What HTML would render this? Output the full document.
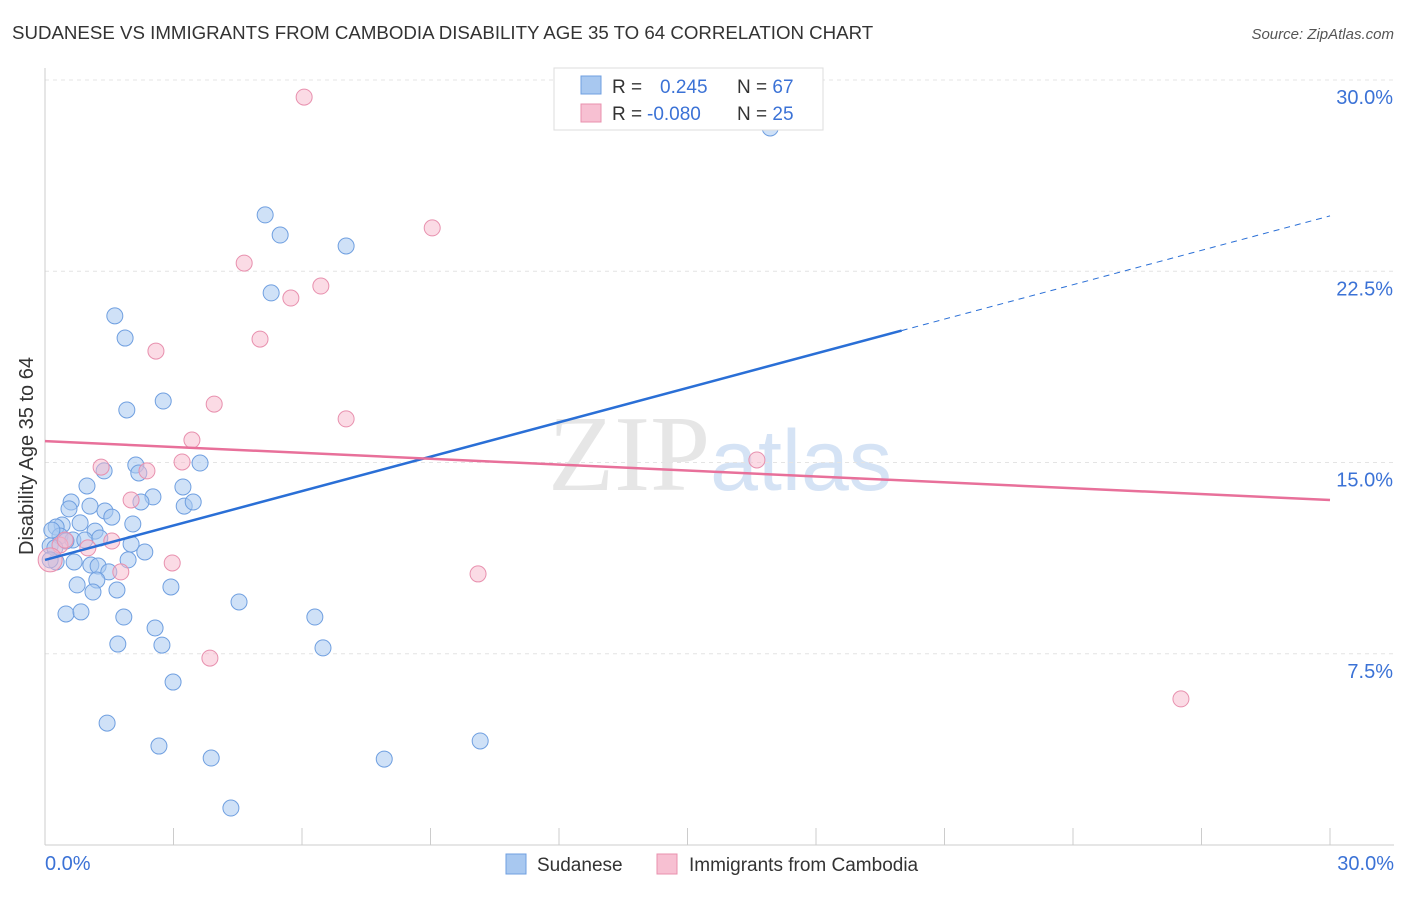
<!DOCTYPE html>
<html><head><meta charset="utf-8"><style>
body{margin:0;background:#fff;font-family:"Liberation Sans",sans-serif;}
</style></head><body>
<svg width="1406" height="892" xmlns="http://www.w3.org/2000/svg" style="font-family:'Liberation Sans',sans-serif">
<text x="12" y="39" font-size="18.7" fill="#333">SUDANESE VS IMMIGRANTS FROM CAMBODIA DISABILITY AGE 35 TO 64 CORRELATION CHART</text>
<text x="1394" y="39" font-size="15" fill="#555" text-anchor="end" font-style="italic">Source: ZipAtlas.com</text>
<text x="720" y="490" font-size="108" fill="#e6e6e6" text-anchor="middle" font-family="Liberation Serif,serif"><tspan>ZIP</tspan><tspan fill="#d5e3f5" font-family="Liberation Sans,sans-serif" font-size="86">atlas</tspan></text>
<g id="grid"></g>
<line x1="45" y1="68" x2="45" y2="845" stroke="#ccc"/>
<line x1="45" y1="845" x2="1394" y2="845" stroke="#ccc"/>
<text x="33" y="456" font-size="20" fill="#333" text-anchor="middle" transform="rotate(-90 33 456)">Disability Age 35 to 64</text>
<text x="45" y="870" font-size="20" fill="#3b72d6">0.0%</text>
<text x="1394" y="870" font-size="20" fill="#3b72d6" text-anchor="end">30.0%</text>
<g id="marks"></g>
<g>
<rect x="554" y="68" width="269" height="62" fill="#fff" stroke="#ddd"/>
<rect x="581" y="76" width="20" height="18" fill="#a8c8f0" stroke="#6f9fe0"/>
<rect x="581" y="104" width="20" height="18" fill="#f7c0d2" stroke="#e890ae"/>
<text x="612" y="93" font-size="19" fill="#333">R = <tspan fill="#3b72d6" x="660">0.245</tspan><tspan x="737">N = </tspan><tspan fill="#3b72d6">67</tspan></text>
<text x="612" y="120" font-size="19" fill="#333">R = <tspan fill="#3b72d6" x="647">-0.080</tspan><tspan x="737">N = </tspan><tspan fill="#3b72d6">25</tspan></text>
</g>
<g>
<rect x="506" y="854" width="20" height="20" fill="#a8c8f0" stroke="#6f9fe0"/>
<text x="537" y="871" font-size="19" fill="#333">Sudanese</text>
<rect x="657" y="854" width="20" height="20" fill="#f7c0d2" stroke="#e890ae"/>
<text x="689" y="871" font-size="19" fill="#333">Immigrants from Cambodia</text>
</g>
</svg>
<script>
const yTicks=[7.5,15,22.5,30];
const yTickLabels=["7.5%","15.0%","22.5%","30.0%"];
const xTicks=[0,3,6,9,12,15,18,21,24,27,30];
const blueX=[16.93,5.14,5.49,7.03,5.28,1.63,1.87,2.76,1.91,2.12,2.19,3.62,1.38,3.22,2.52,2.24,3.25,3.46,0.98,0.61,1.05,0.56,1.40,1.56,0.82,0.40,0.26,2.05,1.17,0.35,0.65,0.93,1.28,0.49,2.01,0.12,0.23,2.33,1.94,0.26,0.68,1.07,1.24,1.49,1.21,0.75,2.94,1.68,1.12,0.49,0.84,1.84,4.53,6.30,2.57,1.70,2.73,6.49,2.99,1.45,2.66,3.88,7.92,10.16,4.34,0.16,0.12];
const blueY=[28.12,24.71,23.92,23.49,21.65,20.75,19.88,17.41,17.06,14.90,14.59,14.98,14.67,14.04,13.65,13.45,13.29,13.45,14.08,13.45,13.29,13.18,13.10,12.86,12.63,12.55,12.47,12.59,12.31,12.12,11.96,11.96,12.04,11.92,11.80,11.73,11.65,11.49,11.18,11.10,11.10,10.98,10.94,10.71,10.39,10.20,10.12,10.00,9.92,9.06,9.14,8.94,9.53,8.94,8.51,7.88,7.84,7.73,6.39,4.78,3.88,3.41,3.37,4.08,1.45,12.35,11.18];
const pinkX=[6.05,9.04,4.65,6.44,5.74,5.02,2.59,3.95,7.03,3.43,1.31,2.38,3.20,16.62,2.01,1.56,1.00,0.35,2.97,1.77,10.11,3.85,26.52,0.12,0.47];
const pinkY=[29.33,24.20,22.82,21.92,21.45,19.84,19.37,17.29,16.71,15.88,14.82,14.67,15.02,15.10,13.53,11.92,11.65,11.76,11.06,10.71,10.63,7.33,5.73,11.18,11.96];
const blueTrend=[11.18,24.67];
const pinkTrend=[15.84,13.53];
const blueSolidEnd=20;
const NS="http://www.w3.org/2000/svg";
const sx=v=>45+v*(1285/30);
const sy=v=>845-v*25.5;
function mk(t,a,p){const e=document.createElementNS(NS,t);for(const k in a)e.setAttribute(k,a[k]);p.appendChild(e);return e;}
const grid=document.getElementById('grid'),marks=document.getElementById('marks');
yTicks.forEach((t,i)=>{
 const l=mk('line',{x1:45,x2:1394,y1:sy(t),y2:sy(t),stroke:'#e4e4e4','stroke-dasharray':'4,4'},grid);
 
 
 const tx=mk('text',{x:1393,y:sy(t)+24,'font-size':20,fill:'#3b72d6','text-anchor':'end'},grid);
 tx.textContent=yTickLabels[i];
 
 
});
xTicks.forEach(t=>{
 const l=mk('line',{x1:sx(t),x2:sx(t),y1:828,y2:845,stroke:'#ccc'},grid);
 
 
});
blueX.forEach((x,i)=>{
 const c=mk('circle',{cx:sx(x),cy:sy(blueY[i]),r:8,fill:'rgba(168,200,240,0.55)',stroke:'#6f9fe0','stroke-width':1},marks);
 
 
});
pinkX.forEach((x,i)=>{
 const c=mk('circle',{cx:sx(x),cy:sy(pinkY[i]),r:i==23?12:8,fill:'rgba(247,184,203,0.5)',stroke:'#e890ae','stroke-width':1},marks);
 
 
});
const by=x=>blueTrend[0]+(blueTrend[1]-blueTrend[0])*x/30;
let l1=mk('line',{x1:sx(0),y1:sy(by(0)),x2:sx(blueSolidEnd),y2:sy(by(blueSolidEnd)),stroke:'#2a6fd6','stroke-width':2.5},marks);


let l2=mk('line',{x1:sx(blueSolidEnd),y1:sy(by(blueSolidEnd)),x2:sx(30),y2:sy(by(30)),stroke:'#2a6fd6','stroke-width':1,'stroke-dasharray':'6,5'},marks);


let l3=mk('line',{x1:sx(0),y1:sy(pinkTrend[0]),x2:sx(30),y2:sy(pinkTrend[1]),stroke:'#e8709a','stroke-width':2.5},marks);


</script>
</body></html>
